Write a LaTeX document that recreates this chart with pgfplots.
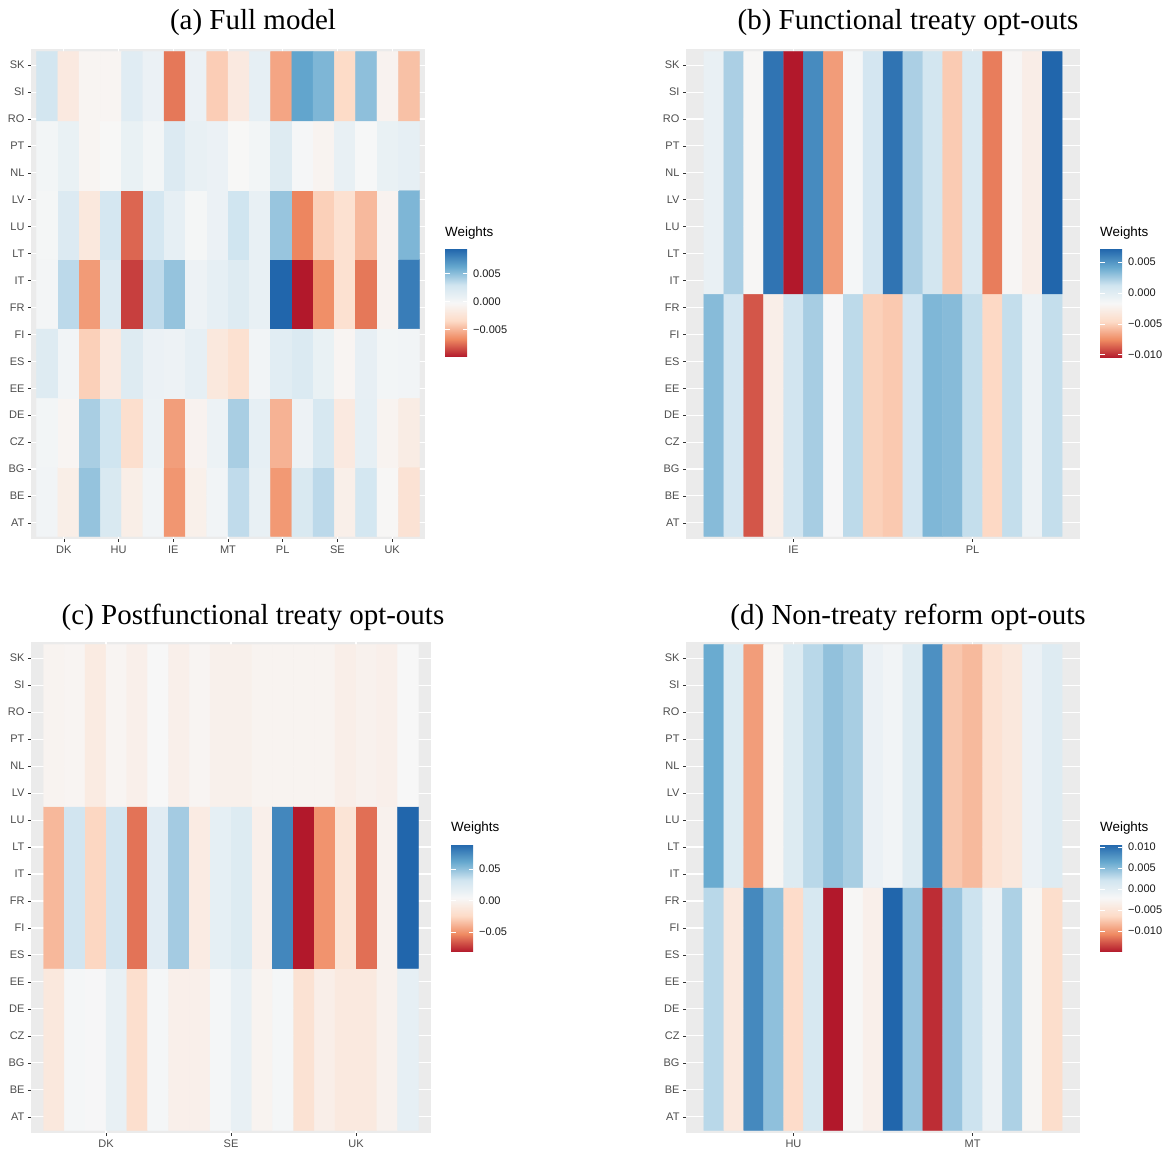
\documentclass[border=0pt]{standalone}
\usepackage{fontspec}
\setmainfont{Liberation Serif}
\newfontfamily\sansf{Liberation Sans}
\usepackage{pgfplots}
\pgfplotsset{compat=1.18}
\definecolor{panelgray}{HTML}{EBEBEB}
\definecolor{tickc}{HTML}{333333}
\definecolor{labc}{HTML}{4D4D4D}
\pgfplotsset{
  colormap={rdbu}{rgb255=(178,24,43) rgb255=(239,138,98) rgb255=(253,219,199) rgb255=(247,247,247) rgb255=(209,229,240) rgb255=(103,169,207) rgb255=(33,102,172)},
  colorbar shift/.style={},
  hm/.style={
    scale only axis, anchor=north west,
    axis background/.style={fill=panelgray},
    axis line style={draw=none},
    grid=major, major grid style={white, line width=1.1pt},
    tick align=outside, major tick length=3pt,
    tick style={color=tickc, line width=0.6pt},
    xtick pos=left, ytick pos=left,
    ticklabel style={font=\sansf\fontsize{11}{13}\selectfont, text=labc},
    yticklabels={AT,BE,BG,CZ,DE,EE,ES,FI,FR,IT,LT,LU,LV,NL,PT,RO,SI,SK},
    colorbar, colorbar/width=22pt,
  },
  cb/.style={
    scale only axis, width=22pt,
    at={(parent axis.north east)}, anchor=north west, xshift=20pt,
    axis line style={draw=none},
    scaled y ticks=false,
    tick align=inside, major tick length=4.5pt,
    ytick pos=both, yticklabel pos=right,
    tick style={white, line width=0.8pt},
    yticklabel style={font=\sansf\fontsize{11}{13}\selectfont, text=black!90, anchor=west, inner sep=0pt},
    yticklabel shift=6pt,
    title=Weights,
    title style={at={(0,1)}, anchor=south west, inner sep=0pt, yshift=4pt, font=\sansf\fontsize{13.4}{16}\selectfont},
  },
}
\begin{document}
\begin{tikzpicture}
\path[use as bounding box] (0pt,0pt) rectangle (1172pt,1154pt);
\node[font=\fontsize{29}{34}\selectfont, anchor=base] at (253pt,1124pt) {(a) Full model};
\node[font=\fontsize{29}{34}\selectfont, anchor=base] at (908pt,1124pt) {(b) Functional treaty opt-outs};
\node[font=\fontsize{29}{34}\selectfont, anchor=base] at (253pt,529pt) {(c) Postfunctional treaty opt-outs};
\node[font=\fontsize{29}{34}\selectfont, anchor=base] at (908pt,529pt) {(d) Non-treaty reform opt-outs};

% ---------------- (a) ----------------
\begin{axis}[hm, at={(31pt,1105pt)}, width=394pt, height=490pt,
  xmin=-0.7571, xmax=17.7571, ymin=-0.5389, ymax=6.5389,
  xtick={0.7857,3.3571,5.9286,8.5,11.0714,13.6429,16.2143},
  xticklabels={DK,HU,IE,MT,PL,SE,UK},
  ytick={-0.30556,0.08333,0.47222,0.86111,1.25,1.63889,2.02778,2.41667,2.80556,3.19444,3.58333,3.97222,4.36111,4.75,5.13889,5.52778,5.91667,6.30556},
  point meta min=-0.0099, point meta max=0.0094,
  colorbar style={cb, height=108pt, yshift=-200pt,
    ytick={-0.005,0,0.005}, yticklabels={−0.005,0.000,0.005}}]
\addplot[matrix plot*, mesh/cols=18, point meta=explicit] coordinates {
(0,0)[0.0003] (1,0)[-0.0013] (2,0)[0.0048] (3,0)[0.0023] (4,0)[-0.0013] (5,0)[0.0003] (6,0)[-0.0062] (7,0)[-0.0011] (8,0)[0.0003] (9,0)[0.0035] (10,0)[0.001] (11,0)[-0.0061] (12,0)[0.0023] (13,0)[0.0036] (14,0)[-0.0012] (15,0)[0.0027] (16,0)[-0.0004] (17,0)[-0.0026]

(0,1)[0.0002] (1,1)[-0.0006] (2,1)[0.0042] (3,1)[0.003] (4,1)[-0.0030] (5,1)[0.0007] (6,1)[-0.0059] (7,1)[-0.0008] (8,1)[0.0007] (9,1)[0.0042] (10,1)[0.0012] (11,1)[-0.0051] (12,1)[0.0006] (13,1)[0.0025] (14,1)[-0.0018] (15,1)[0.0012] (16,1)[-0.0007] (17,1)[-0.0015]

(0,2)[0.0019] (1,2)[0.0003] (2,2)[-0.0039] (3,2)[-0.0018] (4,2)[0.0019] (5,2)[0.0008] (6,2)[0.0006] (7,2)[0.0012] (8,2)[-0.0020] (9,2)[-0.0028] (10,2)[0.0003] (11,2)[0.0016] (12,2)[0.0021] (13,2)[0.0009] (14,2)[-0.0006] (15,2)[0.0011] (16,2)[0.0002] (17,2)[0.0003]

(0,3)[0.0001] (1,3)[0.0036] (2,3)[-0.0060] (3,3)[0.002] (4,3)[-0.0088] (5,3)[0.0035] (6,3)[0.0048] (7,3)[0.0006] (8,3)[0.0012] (9,3)[0.0019] (10,3)[0.001] (11,3)[0.0094] (12,3)[-0.0099] (13,3)[-0.0065] (14,3)[-0.0028] (15,3)[-0.0072] (16,3)[-0.0008] (17,3)[0.0083]

(0,4)[0.0] (1,4)[0.002] (2,4)[-0.0020] (3,4)[0.0026] (4,4)[-0.0077] (5,4)[0.0026] (6,4)[0.0012] (7,4)[0.0] (8,4)[0.0008] (9,4)[0.003] (10,4)[0.001] (11,4)[0.0047] (12,4)[-0.0068] (13,4)[-0.0039] (14,4)[-0.0028] (15,4)[-0.0048] (16,4)[-0.0008] (17,4)[0.0055]

(0,5)[0.0002] (1,5)[0.0009] (2,5)[-0.0006] (3,5)[-0.0003] (4,5)[0.0009] (5,5)[0.0002] (6,5)[0.0020] (7,5)[0.001] (8,5)[0.0008] (9,5)[-0.0003] (10,5)[0.0002] (11,5)[0.0019] (12,5)[-0.0001] (13,5)[-0.0007] (14,5)[0.001] (15,5)[-0.0002] (16,5)[0.0009] (17,5)[0.0012]

(0,6)[0.0028] (1,6)[-0.0018] (2,6)[-0.0006] (3,6)[-0.0006] (4,6)[0.0017] (5,6)[0.0008] (6,6)[-0.0072] (7,6)[0.0008] (8,6)[-0.0040] (9,6)[-0.0018] (10,6)[0.0012] (11,6)[-0.0056] (12,6)[0.0064] (13,6)[0.0055] (14,6)[-0.0034] (15,6)[0.0050] (16,6)[-0.0008] (17,6)[-0.0045]
};
\end{axis}

% ---------------- (b) ----------------
\begin{axis}[hm, at={(686pt,1105pt)}, width=394pt, height=490pt,
  xmin=-1.4, xmax=18.4, ymin=-0.5111, ymax=1.5111,
  xtick={4,13}, xticklabels={IE,PL},
  ytick={-0.44444,-0.33333,-0.22222,-0.11111,0,0.11111,0.22222,0.33333,0.44444,0.55556,0.66667,0.77778,0.88889,1,1.11111,1.22222,1.33333,1.44444},
  point meta min=-0.0105, point meta max=0.0071,
  colorbar style={cb, height=109pt, yshift=-200pt,
    ytick={-0.01,-0.005,0,0.005}, yticklabels={−0.010,−0.005,0.000,0.005}}]
\addplot[matrix plot*, mesh/cols=18, point meta=explicit] coordinates {
(0,0)[0.0033] (1,0)[0.0010] (2,0)[-0.0089] (3,0)[-0.0026] (4,0)[0.0012] (5,0)[0.0024] (6,0)[-0.0016] (7,0)[0.0018] (8,0)[-0.0050] (9,0)[-0.0053] (10,0)[0.0010] (11,0)[0.0035] (12,0)[0.0033] (13,0)[0.0016] (14,0)[-0.0047] (15,0)[0.0016] (16,0)[-0.0009] (17,0)[0.0016]

(0,1)[-0.0006] (1,1)[0.0023] (2,1)[-0.0018] (3,1)[0.0065] (4,1)[-0.0105] (5,1)[0.0055] (6,1)[-0.0069] (7,1)[-0.0015] (8,1)[0.0010] (9,1)[0.0065] (10,1)[0.0023] (11,1)[0.0011] (12,1)[-0.0052] (13,1)[0.0006] (14,1)[-0.0079] (15,1)[-0.0019] (16,1)[-0.0027] (17,1)[0.0071]
};
\end{axis}

% ---------------- (c) ----------------
\begin{axis}[hm, at={(31pt,512pt)}, width=400pt, height=491pt,
  xmin=-1.1, xmax=18.1, ymin=-0.51667, ymax=2.51667,
  xtick={2.5,8.5,14.5}, xticklabels={DK,SE,UK},
  ytick={-0.41667,-0.25,-0.08333,0.08333,0.25,0.41667,0.58333,0.75,0.91667,1.08333,1.25,1.41667,1.58333,1.75,1.91667,2.08333,2.25,2.41667},
  point meta min=-0.082, point meta max=0.09,
  colorbar style={cb, height=108pt, yshift=-202pt,
    ytick={-0.05,0,0.05}, yticklabels={−0.05,0.00,0.05}}]
\addplot[matrix plot*, mesh/cols=18, point meta=explicit] coordinates {
(0,0)[-0.0115] (1,0)[0.006] (2,0)[0.005] (3,0)[0.015] (4,0)[-0.0207] (5,0)[0.006] (6,0)[-0.004] (7,0)[-0.004] (8,0)[0.006] (9,0)[0.015] (10,0)[0.0] (11,0)[0.006] (12,0)[-0.0175] (13,0)[-0.005] (14,0)[-0.010] (15,0)[-0.010] (16,0)[-0.002] (17,0)[0.017]

(0,1)[-0.037] (1,1)[0.032] (2,1)[-0.026] (3,1)[0.032] (4,1)[-0.059] (5,1)[0.021] (6,1)[0.045] (7,1)[-0.008] (8,1)[0.0175] (9,1)[0.0235] (10,1)[-0.004] (11,1)[0.076] (12,1)[-0.082] (13,1)[-0.050] (14,1)[-0.0155] (15,1)[-0.060] (16,1)[-0.002] (17,1)[0.09]

(0,2)[0.0] (1,2)[0.001] (2,2)[-0.0083] (3,2)[0.001] (4,2)[-0.004] (5,2)[0.004] (6,2)[-0.004] (7,2)[0.001] (8,2)[-0.003] (9,2)[-0.003] (10,2)[0.0] (11,2)[0.0] (12,2)[0.0] (13,2)[0.0] (14,2)[-0.005] (15,2)[-0.002] (16,2)[-0.004] (17,2)[0.004]
};
\end{axis}

% ---------------- (d) ----------------
\begin{axis}[hm, at={(686pt,512pt)}, width=394pt, height=491pt,
  xmin=-1.4, xmax=18.4, ymin=-0.5111, ymax=1.5111,
  xtick={4,13}, xticklabels={HU,MT},
  ytick={-0.44444,-0.33333,-0.22222,-0.11111,0,0.11111,0.22222,0.33333,0.44444,0.55556,0.66667,0.77778,0.88889,1,1.11111,1.22222,1.33333,1.44444},
  point meta min=-0.015, point meta max=0.0107,
  colorbar style={cb, height=108pt, yshift=-202pt,
    ytick={-0.01,-0.005,0,0.005,0.01}, yticklabels={−0.010,−0.005,0.000,0.005,0.010}}]
\addplot[matrix plot*, mesh/cols=18, point meta=explicit] coordinates {
(0,0)[0.0031] (1,0)[-0.0044] (2,0)[0.0085] (3,0)[0.0048] (4,0)[-0.0062] (5,0)[0.0015] (6,0)[-0.015] (7,0)[-0.0023] (8,0)[-0.0033] (9,0)[0.0107] (10,0)[0.0044] (11,0)[-0.0142] (12,0)[0.0044] (13,0)[0.0023] (14,0)[-0.0010] (15,0)[0.0036] (16,0)[-0.0025] (17,0)[-0.0060]

(0,1)[0.0063] (1,1)[0.0008] (2,1)[-0.0097] (3,1)[-0.0025] (4,1)[0.0008] (5,1)[0.0031] (6,1)[0.0047] (7,1)[0.0038] (8,1)[-0.0008] (9,1)[-0.0015] (10,1)[0.0007] (11,1)[0.0080] (12,1)[-0.0075] (13,1)[-0.0082] (14,1)[-0.0054] (15,1)[-0.0045] (16,1)[-0.0008] (17,1)[0.0007]
};
\end{axis}
\end{tikzpicture}
\end{document}
